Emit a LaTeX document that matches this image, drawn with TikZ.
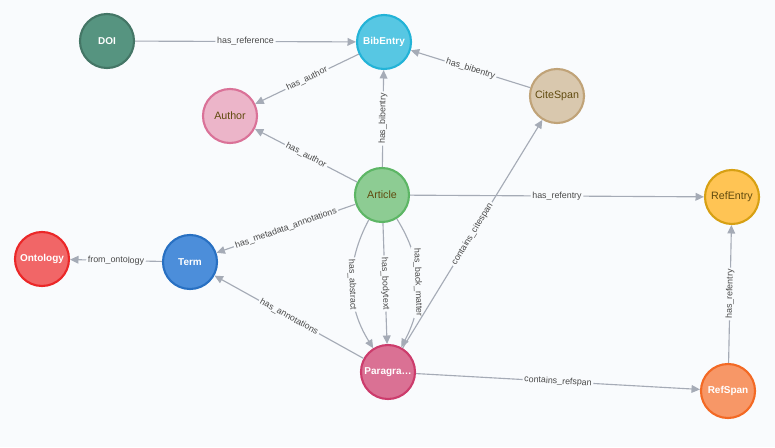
\documentclass[tikz,border=0pt]{standalone}
\usepackage{fontspec}
\setmainfont{Liberation Sans}
\usepackage{xcolor}
\usetikzlibrary{arrows.meta}

% node colours: fill (F) and ring (D)
\definecolor{bg}{HTML}{F9FBFD}
\definecolor{edge}{HTML}{A5ABB6}
\definecolor{darktxt}{HTML}{604A0E}
\definecolor{lbltxt}{HTML}{4A4A4A}
\definecolor{doiF}{HTML}{569480}      \definecolor{doiD}{HTML}{447666}
\definecolor{bibF}{HTML}{57C7E3}      \definecolor{bibD}{HTML}{23B3D7}
\definecolor{authF}{HTML}{ECB5C9}     \definecolor{authD}{HTML}{DA7298}
\definecolor{citeF}{HTML}{D9C8AE}     \definecolor{citeD}{HTML}{C0A378}
\definecolor{artF}{HTML}{8DCC93}      \definecolor{artD}{HTML}{5DB665}
\definecolor{refeF}{HTML}{FFC454}     \definecolor{refeD}{HTML}{D7A013}
\definecolor{ontoF}{HTML}{F16667}     \definecolor{ontoD}{HTML}{EB2728}
\definecolor{termF}{HTML}{4C8EDA}     \definecolor{termD}{HTML}{2870C2}
\definecolor{paraF}{HTML}{DA7194}     \definecolor{paraD}{HTML}{CC3C6C}
\definecolor{refsF}{HTML}{F79767}     \definecolor{refsD}{HTML}{F36924}

\begin{document}
\begin{tikzpicture}[
  x=0.025cm, y=-0.025cm,
  % entity circles, dark caption
  ent/.style={circle, fill=#1F, draw=#1D, line width=1.5pt,
              minimum size=1.35cm, inner sep=0pt,
              font=\fontsize{7.6}{9}\selectfont, text=darktxt},
  % entity circles, white bold caption
  entw/.style={ent=#1, text=white,
               font=\fontsize{7.1}{9}\selectfont\bfseries},
  rel/.style={draw=edge, line width=0.8pt,
              -{Triangle[length=6pt, width=5.5pt]}},
  lbl/.style={midway, sloped, fill=bg, text=lbltxt, inner sep=1.2pt,
              font=\fontsize{6.3}{7}\selectfont}
]
\fill[bg] (0,0) rectangle (775,447);

%% ── Entities ────────────────────────────────────────────────
\node[entw=doi]  (doi)   at (107, 41)  {DOI};
\node[entw=bib]  (bib)   at (384, 42)  {BibEntry};
\node[ent=auth]  (auth)  at (230, 116) {Author};
\node[ent=cite]  (cite)  at (557, 96)  {CiteSpan};
\node[ent=art]   (art)   at (382, 195) {Article};
\node[ent=refe]  (refe)  at (732, 197) {RefEntry};
\node[entw=onto] (onto)  at (42, 259)  {Ontology};
\node[entw=term] (term)  at (190, 262) {Term};
\node[entw=para] (para)  at (388, 372) {Paragra…};
\node[entw=refs] (refs)  at (728, 391) {RefSpan};

%% ── Bibliography side ───────────────────────────────────────
\draw[rel] (doi)  -- (bib)  node[lbl] {has\_reference};
\draw[rel] (bib)  -- (auth) node[lbl] {has\_author};
\draw[rel] (art)  -- (auth) node[lbl] {has\_author};
\draw[rel] (art)  -- (bib)  node[lbl] {has\_bibentry};
\draw[rel] (cite) -- (bib)  node[lbl] {has\_bibentry};
\draw[rel] (art)  -- (refe) node[lbl] {has\_refentry};

%% ── Annotations ─────────────────────────────────────────────
\draw[rel] (art)  -- (term) node[lbl] {has\_metadata\_annotations};
\draw[rel] (term) -- (onto) node[lbl] {from\_ontology};
\draw[rel] (para) -- (term) node[lbl] {has\_annotations};

%% ── Article → Paragraph (three parallel relations) ──────────
\draw[rel] (art) to[bend right=30] node[lbl] {has\_abstract} (para);
\draw[rel] (art) -- (para) node[lbl] {has\_bodytext};
\draw[rel] (art) to[bend left=30]  node[lbl] {has\_back\_matter} (para);

%% ── Spans ───────────────────────────────────────────────────
\draw[rel] (para) -- (cite) node[lbl] {contains\_citespan};
\draw[rel] (para) -- (refs) node[lbl] {contains\_refspan};
\draw[rel] (refs) -- (refe) node[lbl] {has\_refentry};

\end{tikzpicture}
\end{document}
